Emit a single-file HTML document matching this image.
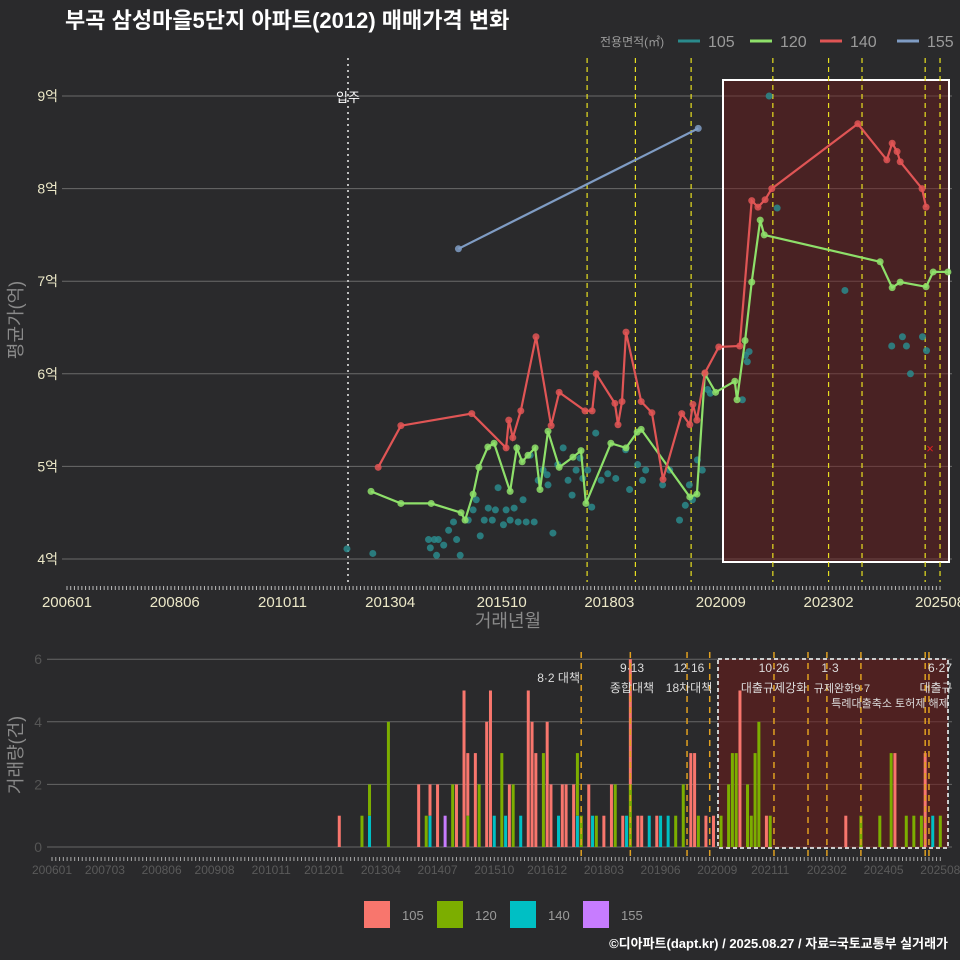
<!DOCTYPE html>
<html><head><meta charset="utf-8"><style>
html,body{margin:0;padding:0;background:#2a2a2c;}
svg{display:block;font-family:"Liberation Sans","Noto Sans CJK KR",sans-serif;}
</style></head><body>
<svg id="chart" width="960" height="960" viewBox="0 0 960 960">
<rect x="0" y="0" width="960" height="960" fill="#2a2a2c"/>
<text x="65" y="28" fill="#ffffff" font-size="22" font-weight="bold">부곡 삼성마을5단지 아파트(2012) 매매가격 변화</text>
<g id="legendTop">
<text x="600" y="46" fill="#9a9a9a" font-size="12">전용면적(㎡)</text>
</g>
<g id="topPanel"></g>
<g id="bottomPanel"></g>
<text x="948" y="948" fill="#ffffff" font-size="13" font-weight="bold" text-anchor="end">©디아파트(dapt.kr) / 2025.08.27 / 자료=국토교통부 실거래가</text>
</svg>
<script>
const seriesNames = ["105","120","140","155"];
const lineColors = ["#2a8a8c","#8ee06a","#e05555","#7f9cc4"];
const barColors = ["#F8766D","#7CAE00","#00BFC4","#C77CFF"];
const priceTicks = [4,5,6,7,8,9];
const priceTickLabels = ["4억","5억","6억","7억","8억","9억"];
const topXLabels = ["200601","200806","201011","201304","201510","201803","202009","202302","202508"];
const bottomXLabels = ["200601","200703","200806","200908","201011","201201","201304","201407","201510","201612","201803","201906","202009","202111","202302","202405","202508"];
const countTicks = [0,2,4,6];

const red140Year = [2012.98,2013.49,2015.08,2015.85,2015.91,2016.00,2016.18,2016.52,2016.86,2017.04,2017.62,2017.78,2017.87,2018.29,2018.36,2018.45,2018.54,2018.88,2019.12,2019.37,2019.79,2019.97,2020.04,2020.13,2020.31,2020.62,2021.09,2021.36,2021.50,2021.66,2021.81,2023.74,2024.39,2024.51,2024.62,2024.69,2025.18,2025.27];
const red140Val = [4.99,5.44,5.57,5.20,5.50,5.31,5.60,6.40,5.44,5.80,5.60,5.60,6.00,5.68,5.45,5.70,6.45,5.70,5.58,4.86,5.57,5.45,5.67,5.50,6.01,6.29,6.30,7.87,7.80,7.88,8.00,8.70,8.31,8.49,8.40,8.29,8.00,7.80];
const green120Year = [2012.82,2013.49,2014.17,2014.84,2014.93,2015.11,2015.24,2015.44,2015.58,2015.94,2016.09,2016.21,2016.34,2016.50,2016.61,2016.79,2017.04,2017.35,2017.53,2017.64,2018.20,2018.54,2018.79,2018.88,2019.97,2020.13,2020.31,2020.55,2020.98,2021.03,2021.21,2021.36,2021.55,2021.64,2024.24,2024.51,2024.69,2025.27,2025.43,2025.76];
const green120Val = [4.73,4.60,4.60,4.50,4.42,4.70,4.99,5.21,5.25,4.73,5.20,5.05,5.12,5.20,4.75,5.38,4.99,5.10,5.17,4.60,5.25,5.20,5.37,5.40,4.67,4.70,6.00,5.80,5.92,5.72,6.36,6.99,7.66,7.50,7.21,6.93,6.99,6.94,7.10,7.10];
const blue155Year = [2014.78,2020.16];
const blue155Val = [7.35,8.65];
const teal105Year = [2012.28,2012.86,2014.11,2014.15,2014.24,2014.33,2014.29,2014.45,2014.56,2014.67,2014.74,2014.82,2015.00,2015.11,2015.18,2015.27,2015.36,2015.45,2015.54,2015.61,2015.67,2015.79,2015.85,2015.94,2016.03,2016.12,2016.23,2016.30,2016.39,2016.48,2016.57,2016.68,2016.77,2016.79,2016.90,2017.01,2017.13,2017.24,2017.33,2017.42,2017.51,2017.57,2017.68,2017.77,2017.86,2017.98,2018.13,2018.31,2018.53,2018.62,2018.80,2018.91,2018.98,2019.36,2019.52,2019.74,2019.87,2019.96,2020.03,2020.14,2020.25,2020.37,2020.43,2021.15,2021.22,2021.26,2021.30,2021.75,2021.93,2023.45,2024.50,2024.74,2024.83,2024.92,2025.19,2025.28];
const teal105Val = [4.11,4.06,4.21,4.12,4.21,4.21,4.04,4.15,4.31,4.40,4.21,4.04,4.42,4.53,4.64,4.25,4.42,4.55,4.42,4.53,4.77,4.37,4.53,4.42,4.55,4.40,4.64,4.40,5.12,4.40,4.85,4.96,4.91,4.80,4.28,5.02,5.20,4.85,4.69,4.96,5.09,4.87,4.96,4.56,5.36,4.85,4.92,4.87,5.18,4.75,5.02,4.85,4.96,4.80,4.96,4.42,4.58,4.80,4.64,5.07,4.96,5.83,5.79,5.72,6.20,6.13,6.24,9.00,7.79,6.90,6.30,6.40,6.30,6.00,6.40,6.25];

const barMonths = ["201205","201211","201301","201306","201402","201404","201405","201407","201409","201411","201412","201502","201503","201505","201506","201508","201509","201510","201512","201601","201602","201603","201605","201607","201608","201609","201611","201612","201701","201703","201704","201705","201707","201708","201709","201711","201712","201801","201803","201805","201806","201808","201809","201810","201812","201901","201903","201905","201906","201908","201910","201912","202002","202003","202004","202006","202008","202010","202012","202101","202102","202103","202105","202106","202107","202108","202110","202111","202307","202311","202404","202407","202408","202411","202501","202503","202504","202506","202508"];
const count105 = [1,0,0,0,2,0,1,2,0,0,2,5,2,3,0,4,5,0,0,0,2,0,0,5,4,3,0,4,2,0,2,2,2,0,0,2,0,0,1,2,0,1,0,4,1,1,0,1,0,0,0,0,3,3,0,1,1,0,0,0,0,5,0,0,0,0,1,0,1,0,0,0,3,0,0,0,3,0,0];
const count120 = [0,1,1,4,0,1,0,0,0,2,0,0,1,0,2,0,0,0,3,0,0,2,0,0,0,0,3,0,0,0,0,0,0,2,1,0,0,1,0,0,2,0,0,2,0,0,0,0,0,0,1,2,0,0,1,0,0,1,2,3,3,0,2,1,3,4,0,1,0,1,1,3,0,1,1,1,0,0,1];
const count140 = [0,0,1,0,0,0,1,0,0,0,0,0,0,0,0,0,0,1,0,1,0,0,1,0,0,0,0,0,0,1,0,0,0,1,0,0,1,0,0,0,0,0,1,0,0,0,1,0,1,1,0,0,0,0,0,0,0,0,0,0,0,0,0,0,0,0,0,0,0,0,0,0,0,0,0,0,0,1,0];
const count155 = [0,0,0,0,0,0,0,0,1,0,0,0,0,0,0,0,0,0,0,0,0,0,0,0,0,0,0,0,0,0,0,0,0,0,0,0,0,0,0,0,0,0,0,0,0,0,0,0,0,0,0,0,0,0,0,0,0,0,0,0,0,0,0,0,0,0,0,0,0,0,0,0,0,0,0,0,0,0,0];

const topEvents = ["201709","201810","202001","202111","202302","202311","202504","202508"];
const bottomEvents = ["201709","201810","202001","202007","202112","202209","202302","202311","202504","202505"];

const NS = "http://www.w3.org/2000/svg";
function mk(parent, tag, attrs){const e=document.createElementNS(NS,tag);for(const k in attrs)e.setAttribute(k,attrs[k]);parent.appendChild(e);return e;}
function ymToIdx(s){return (parseInt(s.slice(0,4))-2006)*12+parseInt(s.slice(4,6))-1;}
const tX = yr => 67 + (yr-2006)*44.58;
const tXm = idx => 67 + idx*3.715;
const tY = v => 559 - (v-4)*92.6;
const bX = idx => 52 + idx*3.78;
const bY = c => 847 - c*31.3;

const topG = document.getElementById('topPanel');
const bottomG = document.getElementById('bottomPanel');

priceTicks.forEach((v,i)=>{
  const g=mk(topG,'line',{x1:62,x2:952,y1:tY(v),y2:tY(v),stroke:'#6a6a6a','stroke-width':1});
  
  
  const t=mk(topG,'text',{x:58,y:tY(v)+5,fill:'#ece8c8','font-size':14,'text-anchor':'end'});
  t.textContent=priceTickLabels[i];
  
  
});
const box=mk(topG,'rect',{x:723,y:80,width:226,height:482,fill:'rgba(110,25,25,0.45)',stroke:'#ffffff','stroke-width':2});


const mi=mk(topG,'line',{x1:348,x2:348,y1:58,y2:582,stroke:'#bbbbbb','stroke-width':2,'stroke-dasharray':'2,4'});


const mit=mk(topG,'text',{x:348,y:102,fill:'#ffffff','font-size':13,'text-anchor':'middle'});
mit.textContent='입주';


topEvents.forEach(m=>{
  const l=mk(topG,'line',{x1:tXm(ymToIdx(m)),x2:tXm(ymToIdx(m)),y1:58,y2:582,stroke:'#e8e020','stroke-width':1.2,'stroke-dasharray':'5,4'});
  
  
});
for(let i=0;i<=235;i++){
  const l=mk(topG,'line',{x1:tXm(i),x2:tXm(i),y1:586,y2:590,stroke:'#bbbbbb','stroke-width':1});
  
  
}
topXLabels.forEach(s=>{
  const t=mk(topG,'text',{x:tXm(ymToIdx(s)),y:607,fill:'#ece8c8','font-size':15,'text-anchor':'middle'});
  t.textContent=s;
  
  
});
const xt=mk(topG,'text',{x:508,y:627,fill:'#8a8a8a','font-size':18,'text-anchor':'middle'});
xt.textContent='거래년월';


const yt=mk(topG,'text',{x:22,y:320,fill:'#8a8a8a','font-size':18,'text-anchor':'middle',transform:'rotate(-90 22 320)'});
yt.textContent='평균가(억)';



function drawSeries(yrs, vals, color, name, lineOp, r){
  const d=yrs.map((y,i)=>(i?'L':'M')+tX(y).toFixed(1)+','+tY(vals[i]).toFixed(1)).join(' ');
  const p=mk(topG,'path',{d:d,fill:'none',stroke:color,'stroke-width':2.2,'stroke-opacity':lineOp});
  
  
  yrs.forEach((y,i)=>{
    const c=mk(topG,'circle',{cx:tX(y),cy:tY(vals[i]),r:r,fill:color,'fill-opacity':0.85});
    
    
  });
}
drawSeries(teal105Year,teal105Val,lineColors[0],'105',0.0,3.5);
drawSeries(blue155Year,blue155Val,lineColors[3],'155',1,3.5);
drawSeries(green120Year,green120Val,lineColors[1],'120',1,3.5);
drawSeries(red140Year,red140Val,lineColors[2],'140',1,3.5);
const xm=mk(topG,'text',{x:930,y:453,fill:'#e02020','font-size':13,'text-anchor':'middle'});
xm.textContent='×';



const lg=document.getElementById('legendTop');
[678,750,820,897].forEach((x0,i)=>{
  const l=mk(lg,'line',{x1:x0,x2:x0+22,y1:41,y2:41,stroke:lineColors[i],'stroke-width':3});
  
  
  const t=mk(lg,'text',{x:x0+30,y:47,fill:'#9a9a9a','font-size':16});
  t.textContent=seriesNames[i];
  
  
});

countTicks.forEach(c=>{
  const g=mk(bottomG,'line',{x1:47,x2:952,y1:bY(c),y2:bY(c),stroke:'#666','stroke-width':1});
  
  
  const t=mk(bottomG,'text',{x:42,y:bY(c)+5,fill:'#555','font-size':14,'text-anchor':'end'});
  t.textContent=c;
  
  
});
const bbox=mk(bottomG,'rect',{x:718,y:659,width:230,height:189,fill:'rgba(110,25,25,0.55)',stroke:'#cccccc','stroke-width':2,'stroke-dasharray':'4,3'});


barMonths.forEach((m,i)=>{
  const x=bX(ymToIdx(m))-1.5;
  let acc=0;
  [count155[i],count140[i],count120[i],count105[i]].forEach((c,k)=>{
    if(!c) return;
    const col=barColors[3-k];
    const r=mk(bottomG,'rect',{x:x,y:bY(acc+c),width:3,height:c*31.3,fill:col});
    
    
    acc+=c;
  });
});
bottomEvents.forEach(m=>{
  const l=mk(bottomG,'line',{x1:bX(ymToIdx(m)),x2:bX(ymToIdx(m)),y1:652,y2:857,stroke:'#e0a020','stroke-width':1.5,'stroke-dasharray':'6,5'});
  
  
});
const ann=[[580,682,'8·2 대책','end'],[632,672,'9·13','middle'],[632,692,'종합대책','middle'],[689,672,'12·16','middle'],[689,692,'18차대책','middle'],[774,672,'10·26','middle'],[774,692,'대출규제강화','middle'],[830,672,'1·3','middle'],[842,692,'규제완화9·7','middle'],[890,707,'특례대출축소 토허제 해제','middle'],[940,672,'6·27','middle'],[936,692,'대출규','middle']];
ann.forEach(a=>{
  const t=mk(bottomG,'text',{x:a[0],y:a[1],fill:'#dddddd','font-size':a[2].length>6?11:12,'text-anchor':a[3]});
  t.textContent=a[2];
  
  
});
for(let i=0;i<=235;i++){
  const l=mk(bottomG,'line',{x1:bX(i),x2:bX(i),y1:857,y2:861,stroke:'#aaaaaa','stroke-width':1});
  
  
}
bottomXLabels.forEach(s=>{
  const t=mk(bottomG,'text',{x:bX(ymToIdx(s)),y:874,fill:'#5a5a5a','font-size':12,'text-anchor':'middle'});
  t.textContent=s;
  
  
});
const yt2=mk(bottomG,'text',{x:22,y:755,fill:'#8a8a8a','font-size':18,'text-anchor':'middle',transform:'rotate(-90 22 755)'});
yt2.textContent='거래량(건)';


[364,437,510,583].forEach((x,i)=>{
  const r=mk(bottomG,'rect',{x:x,y:901,width:26,height:27,fill:barColors[i]});
  
  
  const t=mk(bottomG,'text',{x:x+38,y:920,fill:'#9a9a9a','font-size':13});
  t.textContent=seriesNames[i];
  
  
});
</script>
</body></html>
